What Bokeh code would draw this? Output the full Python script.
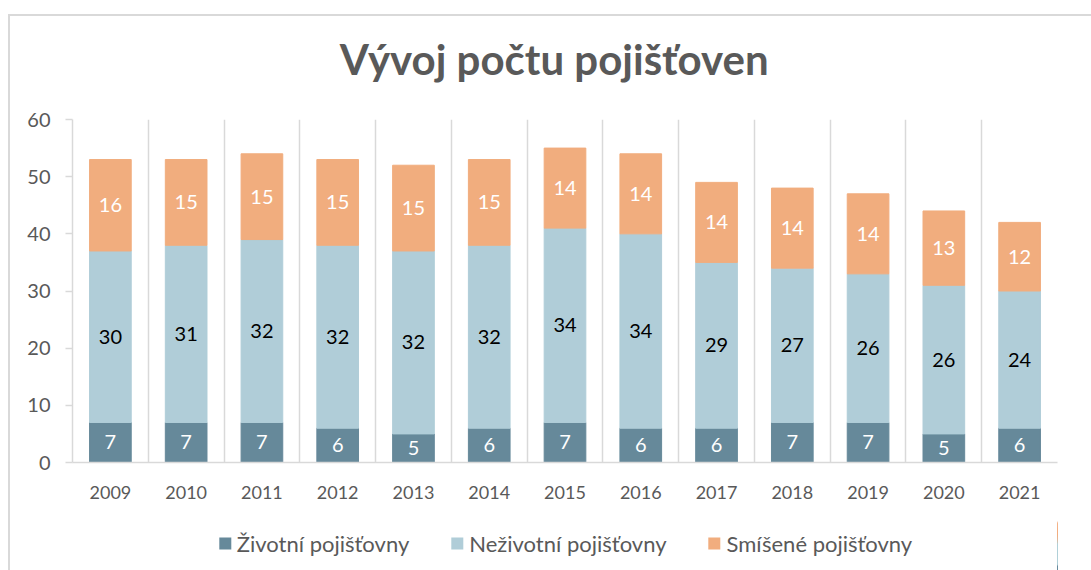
from bokeh.plotting import figure
from bokeh.layouts import column
from bokeh.models import ColumnDataSource, FixedTicker, Legend, LegendItem, Label
from bokeh.core.properties import value
from bokeh.embed import file_html
from bokeh.resources import INLINE

years = ["2009", "2010", "2011", "2012", "2013", "2014", "2015",
         "2016", "2017", "2018", "2019", "2020", "2021"]
zivotni = [7, 7, 7, 6, 5, 6, 7, 6, 6, 7, 7, 5, 6]
nezivotni = [30, 31, 32, 32, 32, 32, 34, 34, 29, 27, 26, 26, 24]
smisene = [16, 15, 15, 15, 15, 15, 14, 14, 14, 14, 14, 13, 12]
series_names = ["Životní pojišťovny", "Neživotní pojišťovny", "Smíšené pojišťovny"]
series_colors = ["#66899a", "#b0cdd8", "#f1ad7e"]
label_colors = ["#ffffff", "#000000", "#ffffff"]
y_ticks = [0, 10, 20, 30, 40, 50, 60]
title_text = "Vývoj počtu pojišťoven"

FONT = "Lato"
GREY = "#595959"
LINE = "#d9d9d9"

x = [i + 1 for i in range(len(years))]
src = ColumnDataSource(dict(x=x, z=zivotni, n=nezivotni, s=smisene))

# ---- title strip ----
pt = figure(width=1081, height=91, x_range=(0, 1), y_range=(0, 1),
            x_axis_type=None, y_axis_type=None, output_backend="svg",
            toolbar_location=None, min_border=0)
pt.outline_line_color = None
pt.add_layout(Label(x=0.492, y=0.533, text=title_text, text_align="center", text_baseline="middle",
                    text_font=FONT, text_font_size="42px", text_font_style="bold",
                    text_color=GREY))

# ---- chart ----
p = figure(width=1081, height=409, frame_width=985, frame_height=343,
           x_range=(0.5, len(years) + 0.5), y_range=(0, 60),
           output_backend="svg", toolbar_location=None,
           min_border_left=62, min_border_right=34, min_border_top=12, min_border_bottom=54)

renderers = p.vbar_stack(["z", "n", "s"], x="x", width=0.55, source=src,
                         fill_color=series_colors, line_color=series_colors)

bottoms = [0] * len(years)
for vals, col in zip([zivotni, nezivotni, smisene], label_colors):
    mids = [b + v / 2 for b, v in zip(bottoms, vals)]
    lsrc = ColumnDataSource(dict(x=x, y=mids, t=[str(v) for v in vals]))
    p.text(x="x", y="y", text="t", source=lsrc, text_align="center", text_baseline="middle",
           text_font=value(FONT), text_font_size="20px", text_color=col)
    bottoms = [b + v for b, v in zip(bottoms, vals)]

p.yaxis.ticker = FixedTicker(ticks=y_ticks)
p.yaxis.major_tick_out = 7
p.yaxis.major_tick_in = 0
p.yaxis.minor_tick_line_color = None
p.yaxis.axis_line_color = LINE
p.yaxis.axis_line_width = 1.5
p.yaxis.major_tick_line_color = LINE
p.yaxis.major_tick_line_width = 1.5
p.yaxis.major_label_text_font = FONT
p.yaxis.major_label_text_font_size = "20px"
p.yaxis.major_label_text_color = GREY
p.yaxis.major_label_standoff = 15

p.xaxis.ticker = FixedTicker(ticks=x)
p.xaxis.major_label_overrides = {xi: yr for xi, yr in zip(x, years)}
p.xaxis.major_tick_line_color = None
p.xaxis.minor_tick_line_color = None
p.xaxis.axis_line_color = LINE
p.xaxis.axis_line_width = 1.5
p.xaxis.major_label_text_font = FONT
p.xaxis.major_label_text_font_size = "18px"
p.xaxis.major_label_text_color = GREY
p.xaxis.major_label_standoff = 17

p.ygrid.grid_line_color = None
p.xgrid.ticker = FixedTicker(ticks=[i + 0.5 for i in range(len(years) + 1)])
p.xgrid.grid_line_color = LINE
p.xgrid.grid_line_width = 1.5
p.outline_line_color = None

# ---- legend strip (same series; bars kept out of view, only the legend shows) ----
pl = figure(width=1081, height=54, frame_width=985, frame_height=54,
            x_range=(-3, -2), y_range=(0, 60), x_axis_type=None, y_axis_type=None,
            output_backend="svg", toolbar_location=None,
            min_border_left=56, min_border_right=40, min_border_top=0, min_border_bottom=0)
pl.outline_line_color = None
lrend = pl.vbar_stack(["z", "n", "s"], x="x", width=0.0, source=src,
                      fill_color=series_colors, line_color=None)
legend = Legend(items=[LegendItem(label=n, renderers=[r]) for n, r in zip(series_names, lrend)],
                orientation="horizontal", location="center",
                label_text_font=FONT, label_text_font_size="22px", label_text_color=GREY,
                glyph_width=15, glyph_height=15, label_standoff=5, spacing=40,
                border_line_color=None, background_fill_alpha=0, margin=0, padding=4)
pl.add_layout(legend)

layout = column(pt, p, pl, spacing=0)
layout.margin = (14, 0, 0, 8)
layout.styles = {"border-left": "2px solid #d9d9d9", "border-top": "2px solid #d9d9d9"}

open("out.html", "w").write(file_html(layout, INLINE))
